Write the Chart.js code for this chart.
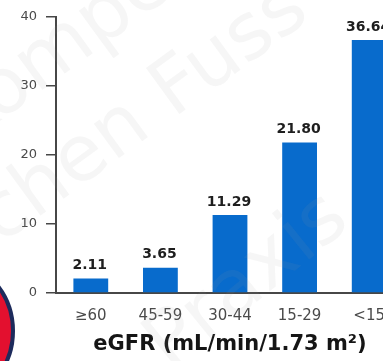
<!DOCTYPE html>
<html>
<head>
<meta charset="utf-8">
<script src="https://cdn.jsdelivr.net/npm/chart.js@4.4.1/dist/chart.umd.min.js"></script>
<style>
  html, body { margin: 0; padding: 0; width: 383px; height: 361px; overflow: hidden; background: #fff; }
  #wrap { position: relative; width: 383px; height: 361px; overflow: hidden; }
  #chart { position: absolute; left: 0; top: 0; }
  .badge {
    position: absolute; left: -137px; top: 255px; width: 152px; height: 152px;
    border-radius: 50%; background: #e3102f; border: 4px solid #1d2b5c; box-sizing: border-box;
  }
</style>
</head>
<body>
<div id="wrap">
  <canvas id="chart" width="404" height="361"></canvas>
  <div class="badge"></div>
</div>
<script>
// eGFR categories and incidence values
const categories = ['≥60', '45-59', '30-44', '15-29', '<15'];
const incidence = [2.11, 3.65, 11.29, 21.80, 36.64];
const yTicks = [0, 10, 20, 30, 40];
const axisTitle = 'eGFR (mL/min/1.73 m²)';
const watermarkLines = ['Kompetenz', 'chen Fuss', 'Praxis'];

const BAR_BLUE = '#086bcc';
const AXIS_GREY = '#474747';

// value labels printed above each bar
const valueLabels = {
  id: 'valueLabels',
  afterDatasetsDraw(chart) {
    const ctx = chart.ctx;
    const meta = chart.getDatasetMeta(0);
    ctx.save();
    ctx.font = 'bold 14px "DejaVu Sans"';
    ctx.fillStyle = '#1e1e1e';
    ctx.textAlign = 'center';
    ctx.textBaseline = 'bottom';
    meta.data.forEach((bar, i) => {
      ctx.fillText(incidence[i].toFixed(2), bar.x - 1, bar.y - 6);
    });
    ctx.restore();
  }
};

// faint diagonal site text laid over the plot
const watermark = {
  id: 'watermark',
  afterDraw(chart) {
    const ctx = chart.ctx;
    ctx.save();
    ctx.font = '78px "DejaVu Sans"';
    ctx.fillStyle = 'rgba(150,150,150,0.09)';
    ctx.textBaseline = 'alphabetic';
    const spots = [[-40, 150, -0.63], [0, 245, -0.63], [170, 372, -0.68]];
    watermarkLines.forEach((t, i) => {
      const [x, y, a] = spots[i];
      ctx.save();
      ctx.translate(x, y);
      ctx.rotate(a);
      ctx.fillText(t, 0, 0);
      ctx.restore();
    });
    ctx.restore();
  }
};

new Chart(document.getElementById('chart'), {
  type: 'bar',
  data: {
    labels: categories,
    datasets: [{
      data: incidence,
      backgroundColor: BAR_BLUE,
      borderWidth: 0,
      barPercentage: 0.5,
      categoryPercentage: 1.0
    }]
  },
  options: {
    responsive: false,
    animation: false,
    devicePixelRatio: 1,
    layout: { padding: { top: 14, left: 0, right: 0, bottom: 0 } },
    plugins: { legend: { display: false }, tooltip: { enabled: false } },
    scales: {
      x: {
        grid: { display: false, drawTicks: false },
        border: { display: true, color: AXIS_GREY, width: 2 },
        ticks: {
          color: '#4a4a4a',
          font: { family: '"DejaVu Sans"', size: 15 },
          padding: 14,
          maxRotation: 0,
          autoSkip: false
        },
        title: {
          display: true,
          text: axisTitle,
          color: '#151515',
          font: { family: '"DejaVu Sans"', size: 21, weight: 'bold' },
          padding: { top: 0, bottom: 4 }
        },
        afterFit(scale) { scale.height = 68; }
      },
      y: {
        min: 0,
        max: 40,
        afterBuildTicks(scale) { scale.ticks = yTicks.map(v => ({ value: v })); },
        grid: {
          drawOnChartArea: false,
          drawTicks: true,
          tickLength: 10,
          color: AXIS_GREY,
          lineWidth: 1.5
        },
        border: { display: true, color: AXIS_GREY, width: 2 },
        ticks: {
          color: '#4a4a4a',
          font: { family: '"DejaVu Sans"', size: 13 },
          padding: 9
        },
        afterFit(scale) { scale.width = 56; }
      }
    }
  },
  plugins: [valueLabels, watermark]
});
</script>
</body>
</html>
